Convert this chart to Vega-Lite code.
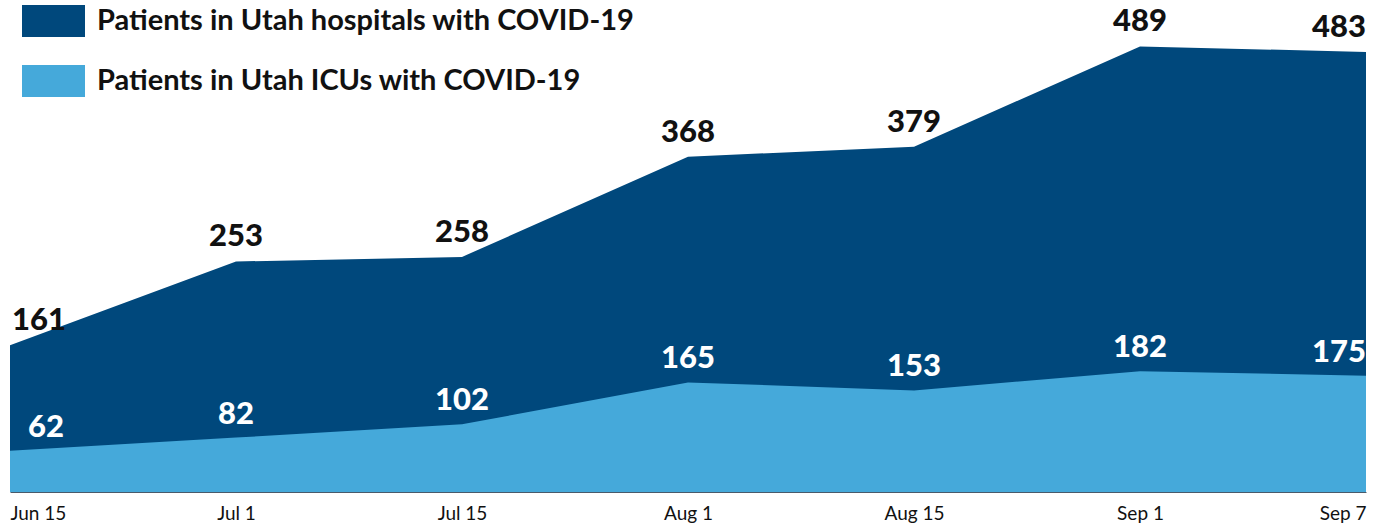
{
  "$schema": "https://vega.github.io/schema/vega-lite/v6.json",
  "width": 1356,
  "height": 492,
  "padding": {"left": 10, "top": 0, "right": 15, "bottom": 35},
  "autosize": {"type": "none"},
  "config": {"view": {"stroke": null}, "font": "Lato"},
  "data": {"values": [
    {"date": "Jun 15", "hospital": 161, "icu": 62},
    {"date": "Jul 1", "hospital": 253, "icu": 82},
    {"date": "Jul 15", "hospital": 258, "icu": 102},
    {"date": "Aug 1", "hospital": 368, "icu": 165},
    {"date": "Aug 15", "hospital": 379, "icu": 153},
    {"date": "Sep 1", "hospital": 489, "icu": 182},
    {"date": "Sep 7", "hospital": 483, "icu": 175}
  ]},
  "encoding": {
    "x": {
      "field": "date", "type": "ordinal",
      "scale": {"type": "point", "padding": 0, "domain": ["Jun 15", "Jul 1", "Jul 15", "Aug 1", "Aug 15", "Sep 1", "Sep 7"]},
      "axis": {"title": null, "labelAngle": 0, "ticks": false, "labelPadding": 12, "labelFontSize": 19, "labelFont": "Lato", "labelColor": "#111", "labelFlush": true, "domainColor": "#4a5a6a", "domainWidth": 1, "grid": false}
    }
  },
  "layer": [
    {
      "mark": {"type": "area"},
      "encoding": {
        "y": {"field": "hospital", "type": "quantitative", "scale": {"domain": [0, 540]}, "axis": null},
        "color": {
          "datum": "Patients in Utah hospitals with COVID-19", "type": "nominal",
          "scale": {"domain": ["Patients in Utah hospitals with COVID-19", "Patients in Utah ICUs with COVID-19"], "range": ["#00487C", "#45A9DA"]},
          "legend": {"orient": "none", "legendX": 22.5, "legendY": 0, "title": null, "symbolType": "M-1.5,-0.76H1.5V0.76H-1.5Z", "symbolSize": 1764, "symbolStrokeWidth": 0, "symbolOpacity": 1, "labelFontSize": 29, "labelFont": "Lato", "labelFontWeight": "bold", "labelColor": "#111", "labelOffset": 22.5, "rowPadding": 23, "labelLimit": 800, "padding": 0}
        }
      }
    },
    {
      "mark": {"type": "area"},
      "encoding": {
        "y": {"field": "icu", "type": "quantitative", "scale": {"domain": [0, 741]}, "axis": null},
        "color": {"datum": "Patients in Utah ICUs with COVID-19", "type": "nominal"}
      }
    },
    {
      "transform": [{"filter": "datum.date == 'Jun 15'"}],
      "mark": {"type": "text", "align": "left", "baseline": "alphabetic", "dx": 2, "dy": -15, "fontSize": 31, "fontWeight": 900, "color": "#111"},
      "encoding": {"y": {"field": "hospital", "type": "quantitative", "scale": {"domain": [0, 540]}, "axis": null}, "text": {"field": "hospital", "type": "quantitative"}}
    },
    {
      "transform": [{"filter": "datum.date != 'Jun 15' && datum.date != 'Sep 7'"}],
      "mark": {"type": "text", "align": "center", "baseline": "alphabetic", "dy": -15, "fontSize": 31, "fontWeight": 900, "color": "#111"},
      "encoding": {"y": {"field": "hospital", "type": "quantitative", "scale": {"domain": [0, 540]}, "axis": null}, "text": {"field": "hospital", "type": "quantitative"}}
    },
    {
      "transform": [{"filter": "datum.date == 'Sep 7'"}],
      "mark": {"type": "text", "align": "right", "baseline": "alphabetic", "dy": -15, "fontSize": 31, "fontWeight": 900, "color": "#111"},
      "encoding": {"y": {"field": "hospital", "type": "quantitative", "scale": {"domain": [0, 540]}, "axis": null}, "text": {"field": "hospital", "type": "quantitative"}}
    },
    {
      "transform": [{"filter": "datum.date == 'Jun 15'"}],
      "mark": {"type": "text", "align": "left", "baseline": "alphabetic", "dx": 18, "dy": -14, "fontSize": 31, "fontWeight": 900, "color": "white"},
      "encoding": {"y": {"field": "icu", "type": "quantitative", "scale": {"domain": [0, 741]}, "axis": null}, "text": {"field": "icu", "type": "quantitative"}}
    },
    {
      "transform": [{"filter": "datum.date != 'Jun 15' && datum.date != 'Sep 7'"}],
      "mark": {"type": "text", "align": "center", "baseline": "alphabetic", "dy": -14, "fontSize": 31, "fontWeight": 900, "color": "white"},
      "encoding": {"y": {"field": "icu", "type": "quantitative", "scale": {"domain": [0, 741]}, "axis": null}, "text": {"field": "icu", "type": "quantitative"}}
    },
    {
      "transform": [{"filter": "datum.date == 'Sep 7'"}],
      "mark": {"type": "text", "align": "right", "baseline": "alphabetic", "dy": -14, "fontSize": 31, "fontWeight": 900, "color": "white"},
      "encoding": {"y": {"field": "icu", "type": "quantitative", "scale": {"domain": [0, 741]}, "axis": null}, "text": {"field": "icu", "type": "quantitative"}}
    }
  ],
  "resolve": {"scale": {"y": "independent"}}
}
